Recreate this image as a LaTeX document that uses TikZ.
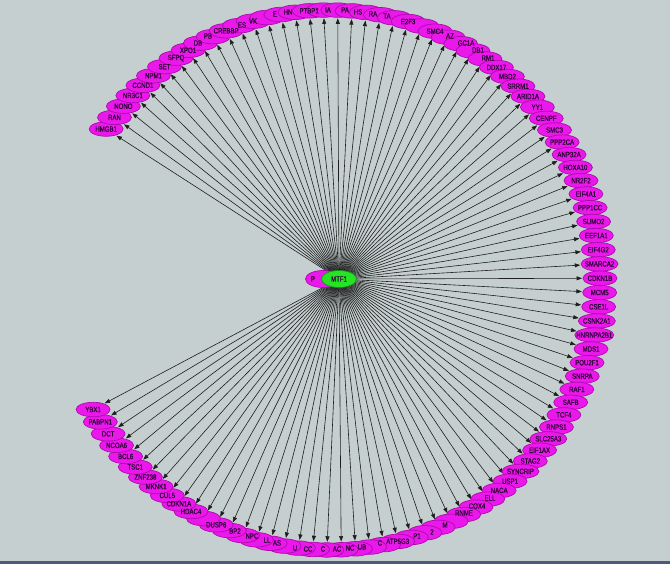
\documentclass[tikz,border=0pt]{standalone}
\usepackage{fontspec}
\newfontfamily\genefont[FakeStretch=0.8,FakeBold=0.6]{Liberation Sans}
\usetikzlibrary{arrows.meta,shapes.geometric}
\definecolor{bgc}{RGB}{197,207,207}
\definecolor{magfill}{RGB}{234,24,234}
\definecolor{magdraw}{RGB}{175,10,175}
\definecolor{grnfill}{RGB}{40,226,40}
\definecolor{grndraw}{RGB}{20,150,20}
\definecolor{edgec}{RGB}{30,30,30}
\definecolor{txtc}{RGB}{45,5,55}
\definecolor{barc}{RGB}{74,92,122}
\pgfdeclarelayer{back}
\pgfdeclarelayer{edges}
\pgfsetlayers{back,edges,main}
\begin{document}
\begin{tikzpicture}[x=1pt,y=-1pt,
  gene/.style={ellipse, draw=magdraw, line width=0.7pt, fill=magfill,
    minimum height=14.5pt, minimum width=#1, inner sep=0pt},
  gene/.default=34pt,
  lbl/.style={font=\genefont\fontsize{7.6}{7.6}\selectfont, text=txtc, inner sep=0pt},
  edge/.style={draw=edgec, line width=0.6pt, -{Triangle[length=5.5pt,width=4pt]}, shorten >=0.6pt},
  hub/.style={ellipse, line width=0.7pt, minimum width=35pt, minimum height=17pt, inner sep=0pt}]
\useasboundingbox (0,0) rectangle (670,564);
\begin{pgfonlayer}{back}
  \fill[bgc] (0,0) rectangle (670,564);
  \fill[barc] (0,561) rectangle (670,564);
\end{pgfonlayer}
% ring of target nodes
\foreach \i in {0,...,98} {
  \pgfmathsetmacro\ang{146-\i*3.034}
  \pgfmathsetmacro\w{(\i==47 || \i==51 || \i==60 || \i==63) ? 37 : ((\i==52) ? 39 : 34)}
  \node[gene=\w pt] (g\i) at ({330+270*cos(\ang)},{280-270*sin(\ang)}) {};
}
% hub nodes
\node[hub, draw=magdraw, fill=magfill] (p) at (323,279) {};
\node[lbl] (pt) at (313,279) {P};
\node[hub, draw=grndraw, fill=grnfill] (m) at (339,279) {};
\node[lbl] (mt) at (m) {MTF1};
% edges
\begin{pgfonlayer}{edges}
  \foreach \i in {0,...,98} \draw[edge] (m.center) -- (g\i);
\end{pgfonlayer}
% full labels
\foreach \i/\t in {0/HMGB1,1/RAN,2/NONO,3/NR3C1,4/CCND1,5/NPM1,6/SET,7/SFPQ,8/XPO1,
  11/CREBBP,17/PTBP1,24/E2F3,26/SMC4,31/DDX17,32/MBD2,33/SRRM1,34/ARID1A,35/YY1,
  36/CENPF,37/SMC3,38/PPP2CA,39/ANP32A,40/HOXA10,41/NR2F2,42/EIF4A1,43/PPP1CC,
  44/SUMO2,45/EEF1A1,46/EIF4G2,47/SMARCA2,48/CDKN1B,49/MCM5,50/CSE1L,51/CSNK2A1,
  52/HNRNPA2B1,53/MDS1,54/POU2F1,55/SNRPA,56/RAF1,57/SAFB,58/TCF4,59/RNPS1,
  60/SLC25A3,61/EIF1AX,62/STAG2,63/SYNCRIP,64/USP1,65/NACA,73/ATP5G3,86/DUSP6,
  88/HDAC4,89/CDKN1A,90/CUL5,91/MKNK1,92/ZNF238,93/TSC1,94/BCL6,95/NCOA6,96/DCT,
  97/PABPN1,98/YBX1}
  \node[lbl] (t\i) at (g\i) {\t};
% partly hidden labels
\foreach \n/\x/\y/\t in {fa/198/43/DB,fb/208/36/PB,fc/242/25/ES,fd/253/21/VK,
  fe/275/14/E,ff/288/12/HN,fg/328/10/IA,fh/345/10/PA,fi/358/12/HS,fj/373/14/RA,
  fk/387/16/TA,fl/450/36/AZ,fm/466/43/GC1A,fn/478/50/DB1,fo/488/58/RM1,
  fp/490/498/ELL,fq/477/506/COX4,fr/464/513/RNME,fs/445/525/M,ft/432/532/2,
  fu/417/536/P1,fv/380/543/C,fw/362/547/UB,fx/350/548/NC,fy/337/549/AC,
  fz/323/549/C,fA/308/549/CC,fB/295/548/U,fC/277/543/AS,fD/267/540/LL,
  fE/252/536/NPC,fF/235/531/BP2}
  \node[lbl] (\n) at (\x,\y) {\t};
\end{tikzpicture}
\end{document}
